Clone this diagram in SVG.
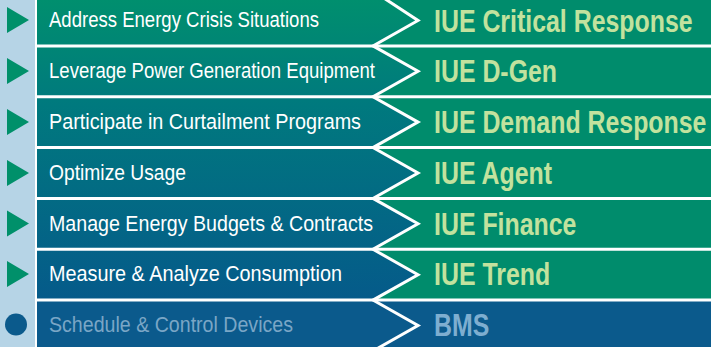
<svg xmlns="http://www.w3.org/2000/svg" width="711" height="347" viewBox="0 0 711 347">
<defs>
<linearGradient id="lg" x1="0" y1="0" x2="0" y2="301" gradientUnits="userSpaceOnUse">
<stop offset="0" stop-color="#008f6e"/>
<stop offset="0.35" stop-color="#00797e"/>
<stop offset="1" stop-color="#055a8a"/>
</linearGradient>
<polygon id="tri" points="7,-13 29,0 7,13" fill="#00906a"/>
</defs>
<style>
.lt{font-family:"Liberation Sans Narrow","Liberation Sans",Arial,sans-serif;font-size:22.5px;fill:#ffffff}
.rt{font-family:"Liberation Sans",Arial,sans-serif;font-size:32px;font-weight:bold;fill:#c2e29e}
.sep{fill:none;stroke:#ffffff;stroke-width:3}
</style>
<rect x="0" y="0" width="711" height="347" fill="url(#lg)"/>
<rect x="0" y="0" width="35" height="347" fill="#b6d4e6"/>
<rect x="35" y="0" width="2" height="347" fill="#ffffff"/>
<polygon points="711,-5 383,-5 418,20.5 373,45.9 711,45.9" fill="#008c6c"/>
<polygon points="711,45.9 373,45.9 418,71.3 373,96.7 711,96.7" fill="#008c6c"/>
<polygon points="711,96.7 373,96.7 418,122.1 373,147.6 711,147.6" fill="#008c6c"/>
<polygon points="711,147.6 373,147.6 418,173 373,198.4 711,198.4" fill="#008c6c"/>
<polygon points="711,198.4 373,198.4 418,223.8 373,249.3 711,249.3" fill="#008c6c"/>
<polygon points="711,249.3 373,249.3 418,274.7 373,300.1 711,300.1" fill="#008c6c"/>
<rect x="37" y="300.1" width="674" height="47" fill="#0b5a8c"/>
<g id="connectors">
<polyline class="sep" points="364,-15 418,20.5 373,45.9 418,71.3 373,96.7 418,122.1 373,147.6 418,173 373,198.4 418,223.8 373,249.3 418,274.7 373,300.1 418,325.5 373,351"/>
<line class="sep" x1="37" y1="45.9" x2="711" y2="45.9"/>
<line class="sep" x1="37" y1="96.7" x2="711" y2="96.7"/>
<line class="sep" x1="37" y1="147.6" x2="711" y2="147.6"/>
<line class="sep" x1="37" y1="198.4" x2="711" y2="198.4"/>
<line class="sep" x1="37" y1="249.3" x2="711" y2="249.3"/>
<line class="sep" x1="37" y1="300.1" x2="711" y2="300.1"/>
</g>
<g id="row1">
<use href="#tri" transform="translate(0,20)"/>
<text class="lt" x="49" y="27" textLength="270" lengthAdjust="spacingAndGlyphs">Address Energy Crisis Situations</text>
<text class="rt" transform="translate(434,32) scale(0.778,1)">IUE Critical Response</text>
</g>
<g id="row2">
<use href="#tri" transform="translate(0,71)"/>
<text class="lt" x="49" y="78" textLength="326" lengthAdjust="spacingAndGlyphs">Leverage Power Generation Equipment</text>
<text class="rt" transform="translate(434,82) scale(0.778,1)">IUE D-Gen</text>
</g>
<g id="row3">
<use href="#tri" transform="translate(0,122)"/>
<text class="lt" x="49" y="129" textLength="312" lengthAdjust="spacingAndGlyphs">Participate in Curtailment Programs</text>
<text class="rt" transform="translate(434,133) scale(0.778,1)">IUE Demand Response</text>
</g>
<g id="row4">
<use href="#tri" transform="translate(0,173)"/>
<text class="lt" x="49" y="180" textLength="137" lengthAdjust="spacingAndGlyphs">Optimize Usage</text>
<text class="rt" transform="translate(434,184) scale(0.778,1)">IUE Agent</text>
</g>
<g id="row5">
<use href="#tri" transform="translate(0,223.5)"/>
<text class="lt" x="49" y="230.5" textLength="324" lengthAdjust="spacingAndGlyphs">Manage Energy Budgets &amp; Contracts</text>
<text class="rt" transform="translate(434,234.5) scale(0.778,1)">IUE Finance</text>
</g>
<g id="row6">
<use href="#tri" transform="translate(0,274)"/>
<text class="lt" x="49" y="281" textLength="293" lengthAdjust="spacingAndGlyphs">Measure &amp; Analyze Consumption</text>
<text class="rt" transform="translate(434,285) scale(0.778,1)">IUE Trend</text>
</g>
<g id="row7">
<circle cx="16" cy="324.5" r="11" fill="#0b5a8c"/>
<text class="lt" x="49" y="332" textLength="244" lengthAdjust="spacingAndGlyphs" style="fill:#7aa6c6">Schedule &amp; Control Devices</text>
<text class="rt" transform="translate(434,335.5) scale(0.778,1)" style="fill:#7eaed0">BMS</text>
</g>
</svg>
